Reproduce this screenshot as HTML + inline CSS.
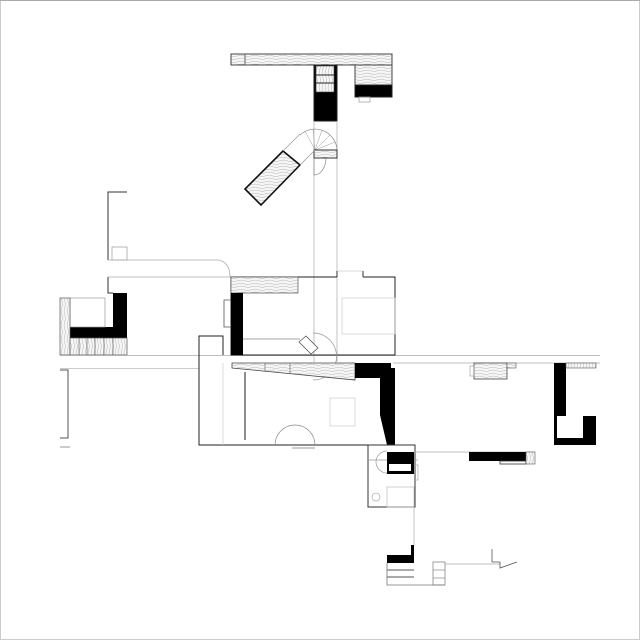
<!DOCTYPE html>
<html><head><meta charset="utf-8"><style>
html,body{margin:0;padding:0;background:#fff;}
svg{display:block;}
</style></head><body>
<svg width="640" height="640" viewBox="0 0 640 640" xmlns="http://www.w3.org/2000/svg">
<defs>
<pattern id="wood" width="14" height="6" patternUnits="userSpaceOnUse">
<rect width="14" height="6" fill="#f6f6f6"/>
<path d="M0 1.5 Q4 0.5 7 2 T14 1.5 M0 4.5 Q5 3.5 8 5 T14 4.2" stroke="#aaa" stroke-width="0.45" fill="none"/>
</pattern>
<pattern id="woodv" width="6" height="14" patternUnits="userSpaceOnUse">
<rect width="6" height="14" fill="#f6f6f6"/>
<path d="M1.5 0 Q0.5 4 2 7 T1.5 14 M4.5 0 Q3.5 5 5 8 T4.2 14" stroke="#aaa" stroke-width="0.45" fill="none"/>
</pattern>
</defs>
<rect x="0.5" y="0.5" width="639" height="639" fill="#fff" stroke="#ccc"/>
<line x1="0" y1="0.5" x2="640" y2="0.5" stroke="#aaa"/>

<g stroke="#222" stroke-width="1" fill="none">
<rect x="231" y="54" width="161" height="11" fill="url(#wood)" stroke="#444"/>
<line x1="245" y1="54" x2="245" y2="65" stroke="#666"/>
<rect x="355" y="65" width="37" height="20" fill="url(#wood)" stroke="#444"/>
<rect x="355" y="85" width="37" height="12" fill="#000"/>
<rect x="359" y="97" width="11" height="5" stroke="#999" stroke-width="0.7"/>
<rect x="314" y="65" width="23" height="56" fill="#000"/>
<rect x="316" y="66" width="18" height="26" fill="url(#woodv)" stroke="#444" stroke-width="0.6"/>
<line x1="316" y1="75" x2="334" y2="75"/><line x1="316" y1="83" x2="334" y2="83"/>
<line x1="314" y1="121" x2="314" y2="362" stroke="#aaa" stroke-width="0.7"/>
<line x1="337" y1="121" x2="337" y2="362" stroke="#aaa" stroke-width="0.7"/>
<path d="M300 135 A22 22 0 0 1 337 150" stroke="#888" stroke-width="0.7"/>
<g stroke="#999" stroke-width="0.5">
<line x1="315" y1="150" x2="305" y2="131"/><line x1="315" y1="150" x2="313" y2="129"/>
<line x1="315" y1="150" x2="322" y2="130"/><line x1="315" y1="150" x2="330" y2="135"/>
<line x1="315" y1="150" x2="335" y2="142"/>
</g>
<rect x="314" y="150" width="23" height="8" fill="url(#wood)" stroke="#333"/>
<path d="M314 158 L314 175 A12 17 0 0 0 326 158" stroke="#888" stroke-width="0.7"/>
<polygon points="245,189 261,205 300,165 283,151" fill="url(#wood)" stroke="#111" stroke-width="1.6"/>
<polyline points="283,151 300,134" stroke="#999" stroke-width="0.7"/>
<polyline points="300,165 315,150" stroke="#999" stroke-width="0.7"/>

<polyline points="127,192 108,192 108,260" stroke="#333"/>
<rect x="112" y="247" width="15" height="13" stroke="#999" stroke-width="0.7"/>
<path d="M108 260 L218 260 Q230 262 230 277" stroke="#aaa" stroke-width="0.8"/>
<line x1="108" y1="277" x2="231" y2="277" stroke="#aaa" stroke-width="0.8"/>
<polyline points="108,277 108,293 113,293" stroke="#333"/>
<rect x="113" y="293" width="14" height="45" fill="#000" stroke="none"/>
<rect x="70" y="327" width="57" height="11" fill="#000" stroke="none"/>
<rect x="70" y="298" width="35" height="29" stroke="#999" stroke-width="0.7"/>
<rect x="60" y="298" width="10" height="57" fill="url(#woodv)" stroke="#555" stroke-width="0.7"/>
<rect x="70" y="338" width="57" height="17" fill="url(#woodv)" stroke="#555" stroke-width="0.7"/>
<g stroke="#555" stroke-width="0.6"><line x1="79" y1="338" x2="79" y2="355"/><line x1="87" y1="338" x2="87" y2="355"/><line x1="95" y1="338" x2="95" y2="355"/><line x1="104" y1="338" x2="104" y2="355"/><line x1="113" y1="338" x2="113" y2="355"/></g>
<line x1="60" y1="355.5" x2="600" y2="355.5" stroke="#aaa" stroke-width="0.7"/>
<line x1="60" y1="368.5" x2="199" y2="368.5" stroke="#bbb" stroke-width="0.7"/>
<line x1="393" y1="363" x2="600" y2="363" stroke="#aaa" stroke-width="0.7"/>
<polyline points="60,370 68,370 68,438 60,438" stroke="#555"/>
<line x1="60" y1="447" x2="70" y2="447" stroke="#999"/>

<polyline points="337,277 231,277 231,355 395,355 395,277 363,277" stroke="#222"/>
<line x1="337" y1="271" x2="363" y2="271" stroke="#ccc" stroke-width="0.7"/>
<line x1="337" y1="271" x2="337" y2="277" stroke="#333"/><line x1="363" y1="271" x2="363" y2="277" stroke="#333"/>
<rect x="231" y="277" width="67" height="16" fill="url(#wood)" stroke="#555" stroke-width="0.7"/>
<rect x="231" y="293" width="12" height="62" fill="#000" stroke="none"/>
<polyline points="231,300 224,300 224,327 231,327" stroke="#555" stroke-width="0.8"/>
<line x1="243" y1="339" x2="300" y2="339" stroke="#888" stroke-width="0.8"/>
<rect x="342" y="298" width="53" height="36" stroke="#ccc" stroke-width="0.7"/>
<path d="M313 333 A22 22 0 0 1 313 380" stroke="#999" stroke-width="0.7"/>
<polygon points="299,342 306,336 318,348 311,354" stroke="#555" stroke-width="0.8" fill="#fff"/>

<polyline points="223,355 223,336 199,336 199,445 388,445" stroke="#222"/>
<line x1="223" y1="363" x2="223" y2="445" stroke="#ccc" stroke-width="0.7"/>
<line x1="245" y1="372" x2="245" y2="440" stroke="#444" stroke-width="1.2"/>
<polygon points="232,363 355,363 355,380 232,368" fill="url(#wood)" stroke="#444" stroke-width="0.8"/>
<line x1="265" y1="363" x2="265" y2="371" stroke="#555" stroke-width="0.6"/>
<line x1="290" y1="363" x2="290" y2="374" stroke="#555" stroke-width="0.6"/>
<polygon points="355,363 391,363 391,368 395,368 395,445 387,445 380,415 380,378 355,378" fill="#000" stroke="none"/>
<rect x="330" y="398" width="25" height="28" stroke="#ccc" stroke-width="0.7"/>
<path d="M275 445 A20 20 0 0 1 315 445" stroke="#888" stroke-width="0.7"/>
<line x1="292" y1="448" x2="315" y2="448" stroke="#999"/>

<rect x="474" y="363" width="33" height="16" fill="url(#wood)" stroke="#444" stroke-width="0.8"/>
<rect x="507" y="363" width="9" height="5" fill="url(#wood)" stroke="#555" stroke-width="0.6"/>
<rect x="470" y="366" width="4" height="10" stroke="#999" stroke-width="0.6"/>
<rect x="554" y="363" width="12" height="53" fill="#000" stroke="none"/>
<rect x="554" y="416" width="42" height="29" fill="#000" stroke="none"/>
<rect x="557" y="416" width="26" height="22" fill="#fff" stroke="none"/>
<rect x="566" y="363" width="30" height="5" fill="url(#woodv)" stroke="#555" stroke-width="0.6"/>

<rect x="368" y="445" width="47" height="62" stroke="#333"/>
<line x1="368" y1="460" x2="418" y2="460" stroke="#999" stroke-width="0.7"/>
<rect x="387" y="452" width="27" height="22" fill="#000" stroke="none"/>
<rect x="389" y="464" width="22" height="7" fill="#fff" stroke="none"/>
<path d="M387 451 A11 11 0 0 0 387 473" stroke="#999" stroke-width="0.7"/>
<polyline points="415,465 418,465 418,480 415,480" stroke="#aaa" stroke-width="0.7"/>
<line x1="414" y1="452" x2="535" y2="452" stroke="#aaa" stroke-width="0.7"/>
<rect x="469" y="452" width="57" height="9" fill="#000" stroke="none"/>
<rect x="500" y="461" width="26" height="3" stroke="#333" stroke-width="0.8"/>
<rect x="526" y="452" width="9" height="12" fill="url(#woodv)" stroke="#555" stroke-width="0.6"/>
<circle cx="376" cy="497" r="4" stroke="#aaa" stroke-width="0.7"/>
<rect x="387" y="487" width="27" height="20" stroke="#bbb" stroke-width="0.7"/>
<line x1="414" y1="507" x2="414" y2="545" stroke="#aaa" stroke-width="0.7"/>

<polygon points="411,545 414,545 414,563 387,563 387,555 411,555" fill="#000" stroke="none"/>
<line x1="387" y1="570" x2="414" y2="570" stroke="#555"/>
<line x1="387" y1="577" x2="414" y2="577" stroke="#555"/>
<polyline points="387,563 387,585 445,585" stroke="#777" stroke-width="0.8"/>
<rect x="433" y="562" width="12" height="23" stroke="#777" stroke-width="0.7"/>
<line x1="433" y1="570" x2="445" y2="570" stroke="#777" stroke-width="0.6"/>
<line x1="433" y1="578" x2="445" y2="578" stroke="#777" stroke-width="0.6"/>
<line x1="445" y1="564" x2="500" y2="564" stroke="#aaa" stroke-width="0.7"/>
<polyline points="492,549 492,562 500,562 500,568 517,562" stroke="#555" stroke-width="0.8"/>
</g>
</svg>
</body></html>
